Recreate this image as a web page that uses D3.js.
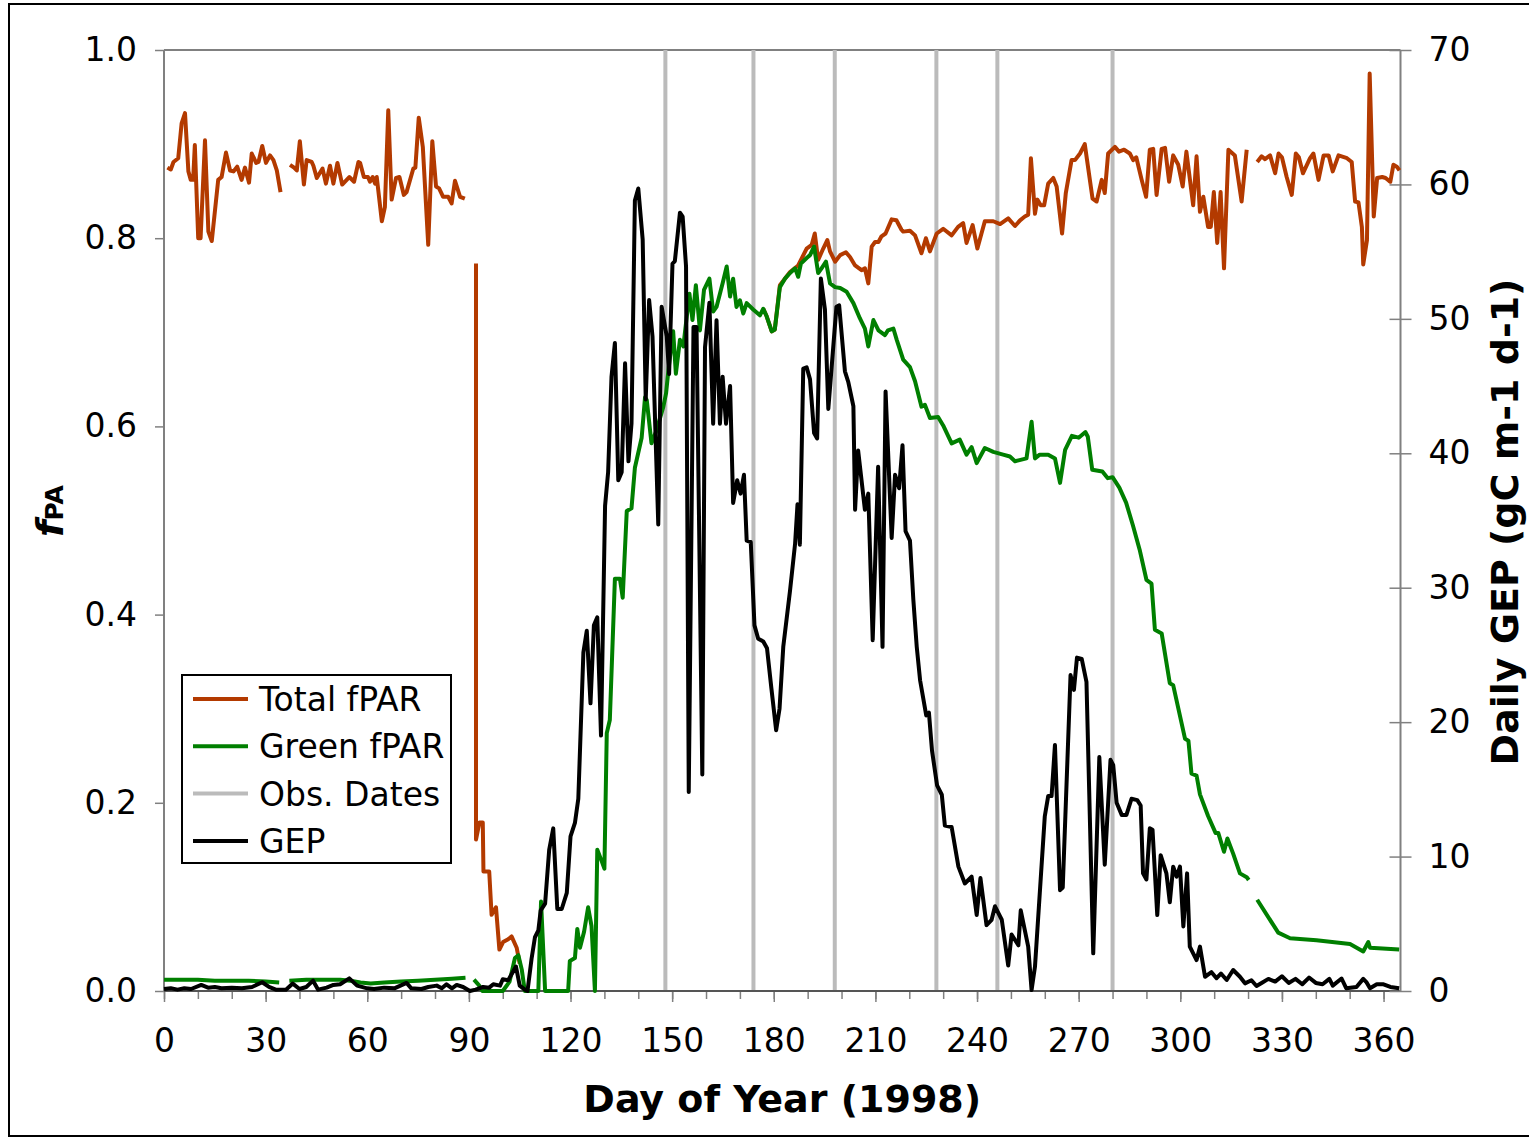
<!DOCTYPE html>
<html>
<head>
<meta charset="utf-8">
<script src="https://cdn.jsdelivr.net/npm/d3@7"></script>
<style>
  html, body { margin: 0; padding: 0; background: #fff; }
  svg { display: block; }
  text { font-family: "DejaVu Sans", Verdana, sans-serif; fill: #000; }
</style>
</head>
<body>
<svg id="chart" width="1529" height="1138"></svg>
<script>
// Day-of-year tick labels and axis ranges
const dayTicks = [0, 30, 60, 90, 120, 150, 180, 210, 240, 270, 300, 330, 360];
const fparTicks = [0.0, 0.2, 0.4, 0.6, 0.8, 1.0];
const gepTicks = [0, 10, 20, 30, 40, 50, 60, 70];

// Dates of field observations (vertical markers)
const obsDates = [148, 174, 198, 228, 246, 280];

// Total fPAR, [day, value]; null marks a gap in the record
const totalFpar = [
  [1,0.875],[2,0.873],[2.8,0.881],[4.2,0.885],[5.2,0.922],[6.2,0.933],[7.2,0.871],[7.9,0.862],[8.6,0.862],[9.1,0.899],
  [10.1,0.80],[10.8,0.80],[12.1,0.904],[13.1,0.807],[14.1,0.797],[16,0.862],[17,0.865],[18.3,0.891],[19.5,0.872],[20.5,0.871],
  [21.6,0.876],[22.9,0.862],[23.9,0.875],[25.1,0.859],[25.9,0.89],[27.2,0.88],[27.9,0.881],[29,0.898],[30.1,0.88],[31.3,0.888],
  [32.3,0.883],[33.3,0.872],[34.4,0.849],[35.8,null],
  [37.2,0.878],[38.4,0.875],[39.2,0.872],[40.1,0.903],[41.3,0.857],[42.1,0.883],[43.6,0.881],[44.1,0.877],[45.1,0.864],[46.8,0.874],
  [47.8,0.858],[49,0.877],[50,0.858],[51.2,0.880],[52.6,0.857],[54.7,0.865],[56.1,0.86],[57.4,0.881],[57.9,0.88],[59,0.865],
  [60.2,0.865],[60.8,0.86],[61.6,0.865],[62.3,0.858],[62.8,0.865],[64.3,0.818],[65.2,0.833],[66.2,0.936],[67.2,0.841],[68.5,0.864],
  [69.5,0.865],[70.8,0.846],[71.6,0.849],[73.6,0.874],[74.2,0.875],[75.2,0.928],[76.4,0.897],[78,0.793],[79.2,0.903],[80.3,0.855],
  [81.2,0.853],[82.4,0.844],[83.9,0.844],[84.9,0.837],[85.9,0.861],[87.4,0.844],[88.8,0.842],[90.5,null],
  [92.1,0.773],[92.1,0.161],[93.1,0.179],[94.1,0.179],[94.3,0.127],[96,0.127],[96.7,0.081],[98,0.089],[99,0.044],[100.1,0.052],
  [101.6,0.055],[102.6,0.058],[104.1,0.046],[105,0.029],[140,null],
  [176.9,0.725],[177.9,0.717],[179.4,0.701],[180.3,0.703],[181.8,0.750],[184.8,0.764],[187.2,0.771],[189.7,0.789],[191.2,0.793],[192.1,0.805],
  [193.1,0.777],[194.6,0.789],[195.8,0.798],[196.6,0.786],[198.1,0.775],[199.6,0.782],[201.3,0.785],[202.5,0.780],[204,0.771],[205.9,0.766],
  [206.9,0.768],[207.9,0.752],[208.9,0.791],[209.9,0.796],[210.9,0.796],[211.8,0.802],[213,0.805],[214.8,0.820],[216.2,0.819],[217.7,0.809],
  [218.2,0.807],[220.2,0.808],[221.7,0.803],[223.6,0.784],[224.9,0.800],[226.1,0.786],[228.1,0.805],[230,0.810],[232.5,0.803],[234.4,0.812],
  [235.9,0.816],[236.9,0.795],[238.7,0.814],[240.1,0.789],[242.3,0.818],[244.8,0.818],[246.8,0.815],[249.2,0.821],[251.2,0.813],[252.7,0.819],
  [254.1,0.823],[255.1,0.825],[255.9,0.885],[257.1,0.826],[257.8,0.841],[258.8,0.835],[259.8,0.835],[261,0.858],[262.5,0.864],[263.5,0.855],
  [265.1,0.805],[266.2,0.848],[267.9,0.883],[268.9,0.883],[270.4,0.890],[271.8,0.900],[274.1,0.842],[275.3,0.839],[276.8,0.862],[277.7,0.848],
  [278.7,0.890],[280.7,0.897],[281.9,0.892],[283.4,0.894],[285.1,0.890],[286.1,0.883],[287,0.886],[288.6,0.862],[289.9,0.844],[291,0.894],
  [292,0.895],[293,0.846],[294.5,0.895],[295.5,0.896],[296.7,0.860],[297.9,0.888],[299.4,0.878],[300.7,0.855],[301.8,0.892],[303.8,0.835],
  [304.8,0.887],[305.8,0.828],[306.8,0.844],[308.2,0.812],[309,0.812],[309.9,0.849],[310.9,0.795],[311.9,0.849],[312.9,0.768],[314.2,0.894],
  [316.1,0.888],[318.1,0.839],[319.6,0.894],[321,null],
  [322.7,0.881],[324,0.887],[325,0.884],[326.5,0.888],[328,0.869],[329,0.890],[330,0.886],[331.4,0.865],[332.9,0.846],[334.1,0.890],
  [335,0.886],[336.2,0.869],[338.3,0.885],[339.3,0.890],[340.8,0.862],[342.3,0.888],[343.8,0.888],[345,0.871],[346.7,0.888],[349.2,0.885],
  [350.6,0.881],[351.6,0.839],[352.6,0.838],[353.6,0.812],[354,0.772],[355.1,0.798],[355.9,0.975],[357.1,0.823],[358.1,0.864],[359.6,0.865],
  [360.6,0.864],[361.6,0.861],[362,0.860],[362.9,0.878],[363.9,0.876],[364.7,0.872]
];

// Green fPAR, [day, value]
const greenFpar = [
  [0,0.012],[5,0.012],[10,0.012],[15,0.011],[20,0.011],[25,0.011],[30,0.010],[34,0.009],[35.5,null],
  [37,0.011],[42,0.012],[47,0.012],[52,0.012],[55,0.011],[58,0.009],[61,0.008],[65,0.009],[70,0.010],[75,0.011],[80,0.012],
  [85,0.013],[89,0.014],[90.3,null],
  [91.5,0.012],[93,0.006],[94,0.0],[100,0.0],[102,0.01],[103.6,0.035],[104.6,0.038],[105.6,0.023],[106.5,0.0],[110.5,0.0],[111.3,0.095],
  [112.5,0.0],[119.3,0.0],[119.8,0.032],[121.3,0.035],[122,0.066],[122.8,0.046],[124,0.063],[125.2,0.089],[126.2,0.069],[127.2,0.0],
  [127.9,0.150],[129.2,0.138],[130,0.13],[130.7,0.274],[131.6,0.288],[133.1,0.438],[134.6,0.438],[135.4,0.418],[136.6,0.510],[138,0.513],
  [139,0.556],[141,0.588],[142,0.631],[142.5,0.628],[143.9,0.582],[145.4,0.596],[147.4,0.621],[148.2,0.635],[148.9,0.660],[150.3,0.701],
  [151.1,0.656],[152.3,0.692],[153.3,0.685],[155.1,0.741],[156,0.713],[157,0.750],[158.2,0.702],[159.4,0.745],[161,0.757],[162.1,0.722],
  [163.1,0.727],[164.9,0.752],[166.1,0.770],[167.1,0.738],[168,0.757],[169,0.727],[170,0.734],[171,0.720],[172,0.731],[174,0.724],
  [175.9,0.718],[176.9,0.725],[177.9,0.717],[179.4,0.701],[180.3,0.703],[181.8,0.748],[183.3,0.757],[184.8,0.763],[186.3,0.768],[187.2,0.759],
  [188,0.773],[189.7,0.779],[190.7,0.782],[191.9,0.791],[193.1,0.763],[194.1,0.768],[195.4,0.775],[196.6,0.752],[198.1,0.748],[199.6,0.747],
  [201.5,0.743],[203.5,0.731],[205.4,0.715],[206.9,0.704],[207.9,0.685],[209.4,0.713],[210.9,0.702],[212.8,0.697],[213.7,0.702],[215.3,0.704],
  [216.3,0.692],[218.2,0.671],[220.2,0.663],[221.7,0.648],[223.6,0.621],[224.6,0.623],[226.1,0.609],[228.5,0.610],[230,0.601],[232.5,0.582],
  [234.9,0.586],[236.9,0.570],[238.4,0.578],[239.9,0.561],[242.3,0.577],[244.8,0.573],[247.7,0.570],[249.7,0.568],[251.2,0.563],[254.6,0.566],
  [256.1,0.605],[257.1,0.566],[258.5,0.570],[261,0.57],[263,0.566],[264.5,0.54],[266,0.575],[268,0.59],[270,0.588],[272,0.594],
  [272.7,0.589],[274,0.554],[277,0.552],[278.6,0.545],[280,0.546],[282,0.535],[284,0.519],[286,0.495],[288,0.469],[290,0.437],
  [291.5,0.433],[292.5,0.384],[294.5,0.380],[296.9,0.327],[297.9,0.325],[301.4,0.268],[302.4,0.266],[303.3,0.231],[304.8,0.229],[305.8,0.209],
  [308.2,0.186],[310.4,0.168],[311.2,0.168],[312.9,0.148],[313.9,0.162],[315.6,0.146],[317.6,0.125],[319.6,0.121],[320.2,0.118],[321.5,null],
  [322.7,0.097],[328.9,0.062],[332.4,0.056],[340.2,0.054],[350.1,0.050],[354,0.042],[355.5,0.052],[356,0.046],[364.6,0.044]
];

// Daily GEP (gC m-1 d-1), [day, value]
const dailyGep = [
  [0,0.15],[2,0.2],[4,0.1],[6,0.2],[8,0.15],[11,0.45],[13,0.25],[15,0.3],[17,0.2],[20,0.25],[23,0.2],[26,0.3],[29,0.65],[31,0.3],
  [33,0.1],[36,0.1],[38,0.55],[40,0.15],[42,0.3],[44,0.77],[45.5,0.1],[48,0.25],[50,0.45],[52,0.5],[54.7,0.94],[57,0.4],[60,0.2],
  [62,0.15],[65,0.25],[68,0.2],[71.6,0.6],[73,0.2],[76,0.15],[78,0.3],[80.5,0.4],[82,0.2],[83.4,0.5],[85,0.2],[86.4,0.45],[88.3,0.3],
  [90.3,0.0],[92,0.1],[94.2,0.3],[96,0.25],[97.2,0.5],[99.2,0.4],[100,0.87],[101.6,0.8],[103.9,1.82],[105,0.4],[106.5,0.1],[107.3,0.0],
  [108.5,2.4],[109.5,4.0],[110.5,4.5],[111.2,6.0],[112.5,6.5],[113.7,10.5],[114.9,12.1],[116.1,6.1],[117.4,6.1],[118.9,7.3],
  [120,11.5],[121.3,12.5],[122.3,14.3],[123.8,25.2],[124.8,26.8],[125.9,21.4],[126.9,27.2],[127.9,27.8],[129,19.0],[130.2,36.1],
  [131.1,38.6],[132.1,45.7],[133.1,48.2],[134.1,38.0],[135.1,38.6],[136.1,46.7],[137.1,39.4],[138,42.2],[139,58.8],[140,59.7],
  [141.3,55.9],[142.2,44.0],[143.2,51.4],[144.2,48.7],[145.9,34.7],[146.9,50.9],[148.4,48.7],[149.1,45.9],[150.1,54.1],[150.8,54.3],
  [152.3,57.9],[153.1,57.6],[154.1,53.9],[154.9,14.8],[156.3,49.4],[157.2,49.4],[158.9,16.1],[159.7,47.9],[161,51.2],[162.1,42.2],
  [163.1,49.9],[164.1,42.2],[164.9,45.7],[165.9,42.2],[167.1,45.0],[168,36.3],[169.2,38.0],[170.2,37.0],[171.2,38.4],[172,33.5],
  [173.2,33.4],[174.3,27.2],[175.4,26.2],[176.9,26.0],[178,25.5],[179.3,22.5],[180.7,19.4],[181.7,21],[182.8,25.6],[184.8,29.8],
  [186.3,33.3],[187,36.2],[187.7,33.2],[188.7,46.3],[189.7,46.4],[190.7,45.5],[191.9,41.5],[192.8,41.1],[193.9,53.0],[195.1,50.7],
  [196.1,43.3],[198.5,50.9],[199.3,51.0],[201,46.1],[202,45.3],[203.5,43.5],[204,35.8],[204.9,40.2],[206.9,35.8],[207.9,37.0],
  [209.2,26.1],[210.8,39.0],[212.1,25.6],[213,44.6],[214.8,33.7],[215.8,38.4],[217,37.4],[218,40.6],[218.9,34.2],[220.2,33.5],
  [221.2,29.1],[222.2,25.6],[223.2,23.1],[225,20.5],[225.8,20.7],[226.7,17.9],[228.2,15.3],[229.6,14.6],[230.5,12.3],[232.5,12.2],
  [234.5,9.25],[236.4,8.0],[238.4,8.5],[239.9,5.65],[241,8.4],[242.8,4.9],[244.3,5.3],[245.3,6.3],[247.3,5.3],[249.2,1.9],
  [250.2,4.2],[252.2,3.4],[252.9,6.0],[255.1,3.3],[256.1,0.07],[257.1,1.8],[260,13.0],[261,14.5],[262,14.5],[263,18.3],
  [264.5,7.5],[265.3,7.7],[267.6,23.5],[268.6,22.4],[269.5,24.8],[270.9,24.7],[272.3,23.0],[274.3,2.8],[276.1,17.4],[277.7,9.4],
  [279.4,17.2],[280.2,16.8],[281.2,14.0],[282.7,13.1],[284.1,13.1],[285.6,14.3],[287.3,14.2],[288.3,13.8],[289,8.75],[290,8.3],
  [291,12.1],[291.8,12.0],[293.2,5.65],[294.2,10.1],[295.9,8.75],[296.9,6.6],[297.9,9.25],[298.9,8.5],[299.9,9.25],[300.9,4.8],
  [302,8.75],[302.8,3.3],[304.8,2.3],[305.8,3.3],[307.3,1.06],[309.2,1.4],[310.7,0.95],[312,1.3],[313.7,0.82],[315.6,1.56],
  [317.6,1.06],[319.1,0.57],[321,0.8],[322.5,0.37],[324,0.6],[326,0.9],[328,0.7],[330,1.1],[332,0.6],[334,0.9],[336,0.5],
  [338,1.0],[340,0.6],[342,0.5],[344,0.9],[345,0.4],[347.6,0.93],[349,0.2],[352,0.3],[354,0.9],[355,0.64],[356,0.2],[358,0.5],
  [360,0.5],[362,0.3],[364.6,0.2]
];

const colors = { total: "#B33A00", green: "#007F00", obs: "#BBBBBB", gep: "#000000", axis: "#808080" };

const svg = d3.select("#chart");
const W = 1529, H = 1138;
const plot = { left: 164, right: 1400.5, top: 50, bottom: 991 };
const labelSize = 33;

// Outer frame
svg.append("rect").attr("x", 9).attr("y", 4).attr("width", W + 20).attr("height", H - 6)
  .attr("fill", "none").attr("stroke", "#000").attr("stroke-width", 2);

const x = d3.scaleLinear().domain([0, 365]).range([plot.left, plot.right]);
const yF = d3.scaleLinear().domain([0, 1]).range([plot.bottom, plot.top]);
const yG = d3.scaleLinear().domain([0, 70]).range([plot.bottom, plot.top]);

// Top border of the plot area
svg.append("line").attr("x1", plot.left).attr("x2", plot.right).attr("y1", plot.top).attr("y2", plot.top)
  .attr("stroke", colors.axis).attr("stroke-width", 2);

// Observation date markers
svg.append("g").selectAll("line").data(obsDates).join("line")
  .attr("x1", d => x(d)).attr("x2", d => x(d))
  .attr("y1", plot.top).attr("y2", plot.bottom)
  .attr("stroke", colors.obs).attr("stroke-width", 4);

// Bottom axis: major ticks every 30 days, minor every 10
const xAxisG = svg.append("g").attr("transform", `translate(0,${plot.bottom})`);
xAxisG.call(d3.axisBottom(x).tickValues(d3.range(0, 366, 10)).tickSize(8).tickFormat(""))
  .call(g => g.select(".domain").remove())
  .call(g => g.selectAll("line").attr("stroke", colors.axis).attr("stroke-width", 1.5));
xAxisG.append("g").call(d3.axisBottom(x).tickValues(dayTicks).tickSize(11).tickPadding(26.5).tickFormat(d3.format("d")))
  .call(g => g.select(".domain").remove())
  .call(g => g.selectAll("line").attr("stroke", colors.axis).attr("stroke-width", 1.5))
  .call(g => g.selectAll("text").attr("font-size", labelSize).attr("font-family", "DejaVu Sans").attr("fill", "#000"));
xAxisG.append("line").attr("x1", plot.left).attr("x2", plot.right).attr("stroke", "#555").attr("stroke-width", 2);

// Left axis (fPAR)
const yLeftG = svg.append("g").attr("transform", `translate(${plot.left},0)`);
yLeftG.call(d3.axisLeft(yF).tickValues(fparTicks).tickSize(9).tickPadding(18).tickFormat(d3.format(".1f")))
  .call(g => g.select(".domain").remove())
  .call(g => g.selectAll("line").attr("stroke", colors.axis).attr("stroke-width", 1.5))
  .call(g => g.selectAll("text").attr("font-size", labelSize).attr("font-family", "DejaVu Sans").attr("fill", "#000"));
yLeftG.append("line").attr("y1", plot.top).attr("y2", plot.bottom).attr("stroke", colors.axis).attr("stroke-width", 2);

// Right axis (GEP), ticks cross the axis line
const yRightG = svg.append("g").attr("transform", `translate(${plot.right},0)`);
yRightG.call(d3.axisRight(yG).tickValues(gepTicks).tickSize(11).tickPadding(17).tickFormat(d3.format("d")))
  .call(g => g.select(".domain").remove())
  .call(g => g.selectAll("line").attr("x1", -11).attr("stroke", colors.axis).attr("stroke-width", 1.5))
  .call(g => g.selectAll("text").attr("font-size", labelSize).attr("font-family", "DejaVu Sans").attr("fill", "#000"));
yRightG.append("line").attr("y1", plot.top).attr("y2", plot.bottom).attr("stroke", colors.axis).attr("stroke-width", 2);

// Series
const lineF = d3.line().defined(d => d[1] !== null).x(d => x(d[0])).y(d => yF(d[1]));
const lineG = d3.line().defined(d => d[1] !== null).x(d => x(d[0])).y(d => yG(d[1]));
const series = svg.append("g").attr("fill", "none").attr("stroke-linejoin", "round").attr("stroke-linecap", "butt");
series.append("path").attr("d", lineF(totalFpar)).attr("stroke", colors.total).attr("stroke-width", 4);
series.append("path").attr("d", lineF(greenFpar)).attr("stroke", colors.green).attr("stroke-width", 4);
series.append("path").attr("d", lineG(dailyGep)).attr("stroke", colors.gep).attr("stroke-width", 4);

// Axis titles
svg.append("text").attr("x", (plot.left + plot.right) / 2).attr("y", 1112).attr("text-anchor", "middle")
  .attr("font-size", 38).attr("font-weight", "bold").text("Day of Year (1998)");
svg.append("text").attr("transform", "translate(1518,522) rotate(-90)").attr("text-anchor", "middle")
  .attr("font-size", 38).attr("font-weight", "bold").text("Daily GEP (gC m-1 d-1)");
const leftTitle = svg.append("text").attr("transform", "translate(63,511) rotate(-90)").attr("text-anchor", "middle")
  .attr("font-weight", "bold");
leftTitle.append("tspan").attr("font-size", 38).attr("font-style", "italic").text("f");
leftTitle.append("tspan").attr("font-size", 25).text("PA");

// Legend
const legend = svg.append("g").attr("transform", "translate(182,675)");
legend.append("rect").attr("width", 269).attr("height", 188).attr("fill", "#fff").attr("stroke", "#000").attr("stroke-width", 2);
const legendItems = [
  { label: "Total fPAR", color: colors.total },
  { label: "Green fPAR", color: colors.green },
  { label: "Obs. Dates", color: colors.obs },
  { label: "GEP", color: colors.gep }
];
const li = legend.selectAll("g.item").data(legendItems).join("g").attr("class", "item")
  .attr("transform", (d, i) => `translate(0,${24 + i * 47.3})`);
li.append("line").attr("x1", 11).attr("x2", 66).attr("stroke", d => d.color).attr("stroke-width", 4);
li.append("text").attr("x", 77).attr("y", 12).attr("font-size", labelSize).text(d => d.label);
</script>
</body>
</html>
